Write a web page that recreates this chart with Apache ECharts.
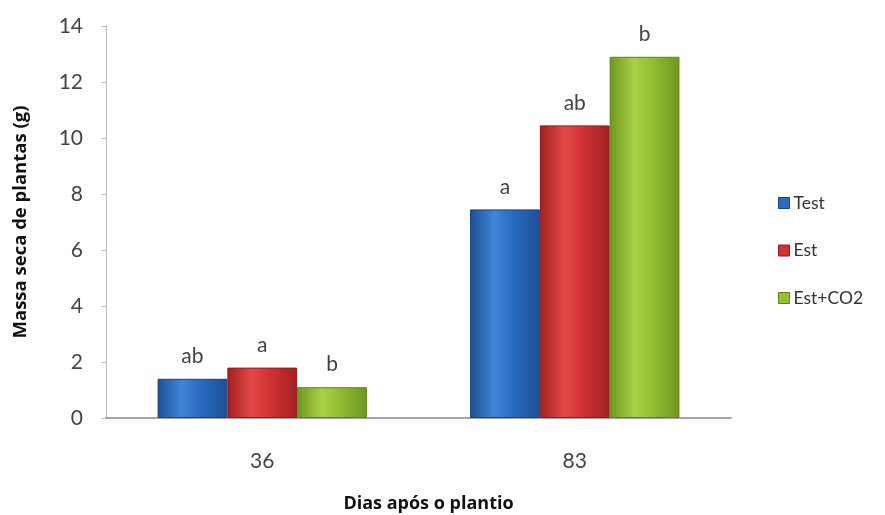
<!DOCTYPE html>
<html>
<head>
<meta charset="utf-8">
<script src="https://cdn.jsdelivr.net/npm/echarts@6/dist/echarts.min.js"></script>
<style>
  html, body { margin: 0; padding: 0; background: #fff; }
  #chart { width: 885px; height: 515px; }
</style>
</head>
<body>
<div id="chart"></div>
<script>
// Dias após o plantio
const categories = ['36', '83'];
const seriesNames = ['Test', 'Est', 'Est+CO2'];
const testValues = [1.4, 7.45];
const estValues = [1.8, 10.45];
const estCo2Values = [1.1, 12.9];
const testLetters = ['ab', 'a'];
const estLetters = ['a', 'ab'];
const estCo2Letters = ['b', 'b'];
const yTicks = [0, 2, 4, 6, 8, 10, 12, 14];

const FONT = 'Lato, "Open Sans", sans-serif';
const TITLE_FONT = '"Open Sans", Lato, sans-serif';

function cylinder(edge, mid, light) {
  return {
    type: 'linear', x: 0, y: 0, x2: 1, y2: 0,
    colorStops: [
      { offset: 0, color: edge },
      { offset: 0.35, color: light },
      { offset: 0.6, color: mid },
      { offset: 1, color: edge }
    ]
  };
}

const palette = [
  { fill: cylinder('#1d4f95', '#2a6cc4', '#3f86d8'), border: '#1a4380', icon: '#2a6cc4' },
  { fill: cylinder('#a31f22', '#d23234', '#e24a48'), border: '#8e1b1d', icon: '#d23234' },
  { fill: cylinder('#6e961f', '#92bf33', '#a8d148'), border: '#5f8418', icon: '#92bf33' }
];

const valueSets = [testValues, estValues, estCo2Values];
const letterSets = [testLetters, estLetters, estCo2Letters];

const series = seriesNames.map((name, i) => ({
  name: name,
  type: 'bar',
  barGap: '0%',
  barCategoryGap: '33%',
  data: valueSets[i],
  itemStyle: {
    color: palette[i].fill,
    borderColor: palette[i].border,
    borderWidth: 1
  },
  label: {
    show: true,
    position: 'top',
    distance: 12,
    color: '#444',
    fontFamily: FONT,
    fontSize: 21,
    formatter: p => letterSets[i][p.dataIndex]
  }
}));

const chart = echarts.init(document.getElementById('chart'), null, { renderer: 'canvas' });
chart.setOption({
  backgroundColor: '#ffffff',
  animation: false,
  grid: { left: 106, right: 154, top: 26, bottom: 97, containLabel: false, outerBoundsMode: 'none' },
  legend: {
    orient: 'vertical',
    left: 773,
    top: 189,
    itemGap: 29.5,
    itemWidth: 11,
    itemHeight: 11,
    icon: 'rect',
    textStyle: { color: '#333', fontFamily: FONT, fontSize: 17.5, padding: [0, 0, 0, -1] },
    data: seriesNames.map((n, i) => ({ name: n, itemStyle: { color: palette[i].icon, borderColor: palette[i].border, borderWidth: 1 } }))
  },
  xAxis: {
    type: 'category',
    data: categories,
    name: 'Dias após o plantio',
    nameLocation: 'middle',
    nameGap: 77,
    nameTextStyle: { color: '#111', fontFamily: TITLE_FONT, fontSize: 18, fontWeight: 'bold', padding: [0, 0, 0, 20] },
    axisLine: { lineStyle: { color: '#888', width: 1.5 } },
    axisTick: { show: false },
    axisLabel: { color: '#444', fontFamily: FONT, fontSize: 21, margin: 33 }
  },
  yAxis: {
    type: 'value',
    min: yTicks[0],
    max: yTicks[yTicks.length - 1],
    interval: 2,
    name: 'Massa seca de plantas (g)',
    nameLocation: 'middle',
    nameGap: 76,
    nameTextStyle: { color: '#111', fontFamily: TITLE_FONT, fontSize: 18.5, fontWeight: 'bold' },
    axisLine: { show: true, lineStyle: { color: '#bbb', width: 1 } },
    axisTick: { show: true, length: 5, lineStyle: { color: '#bbb' } },
    splitLine: { show: false },
    axisLabel: { color: '#444', fontFamily: FONT, fontSize: 21, margin: 23 }
  },
  series: series
});
</script>
</body>
</html>
